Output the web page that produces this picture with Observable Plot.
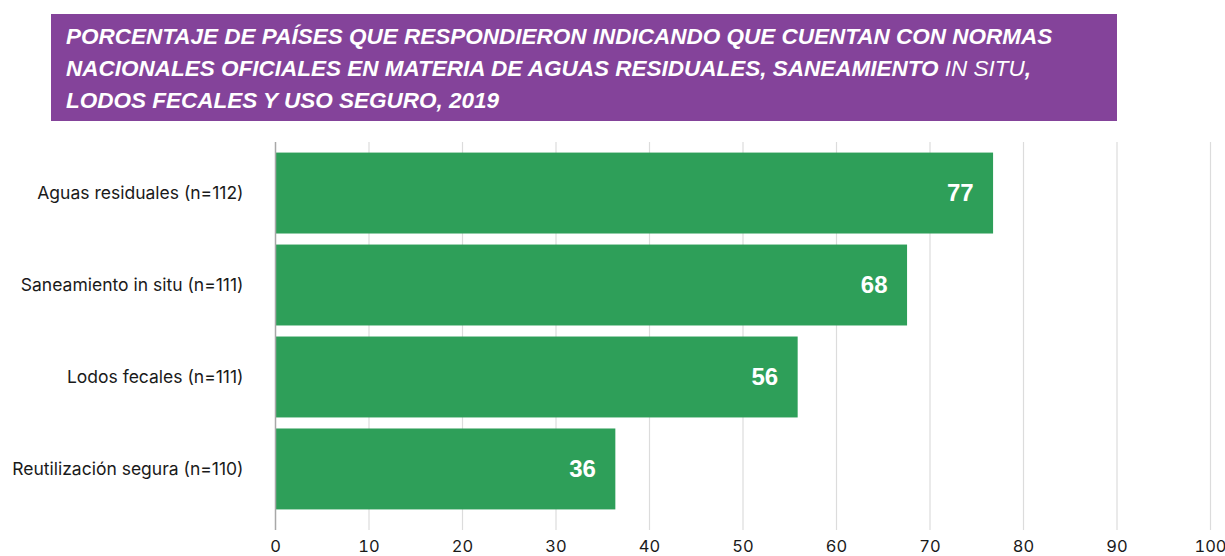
<!DOCTYPE html>
<html><head><meta charset="utf-8">
<script src="https://cdn.jsdelivr.net/npm/d3@7"></script>
<script src="https://cdn.jsdelivr.net/npm/@observablehq/plot@0.6"></script>
<style>
body{margin:0;background:#fff;width:1225px;height:556px;overflow:hidden;position:relative;font-family:Inter,"Liberation Sans",sans-serif;}
#title{position:absolute;left:51px;top:14px;width:1066px;height:107px;background:#84439a;box-sizing:border-box;padding:7px 0 0 15px;color:#fff;font-family:"Liberation Sans",Arial,sans-serif;font-weight:bold;font-style:italic;font-size:22.5px;line-height:32px;white-space:nowrap;}
#title .n{font-weight:normal;}
#chart{position:absolute;left:0;top:130px;}
</style></head><body>
<div id="title">PORCENTAJE DE PAÍSES QUE RESPONDIERON INDICANDO QUE CUENTAN CON NORMAS<br>NACIONALES OFICIALES EN MATERIA DE AGUAS RESIDUALES, SANEAMIENTO <span class="n">IN SITU</span>,<br>LODOS FECALES Y USO SEGURO, 2019</div>
<div id="chart"></div>
<script>
const categories = ["Aguas residuales (n=112)", "Saneamiento in situ (n=111)", "Lodos fecales (n=111)", "Reutilización segura (n=110)"];
const values = [76.8, 67.6, 55.9, 36.4];
const labels = ["77", "68", "56", "36"];
const xTicks = [0, 10, 20, 30, 40, 50, 60, 70, 80, 90, 100];

const data = categories.map((c, i) => ({cat: c, v: values[i], lab: labels[i]}));

const chart = Plot.plot({
  width: 1225,
  height: 426,
  marginLeft: 275,
  marginRight: 15,
  marginTop: 12,
  marginBottom: 36,
  style: {fontFamily: "Inter, 'Liberation Sans', sans-serif", fontSize: "16px", color: "#1a1a1a", background: "transparent", overflow: "visible"},
  x: {domain: [0, 100], ticks: xTicks},
  y: {domain: categories, paddingInner: 0.12, paddingOuter: 0.115, round: false},
  marks: [
    Plot.ruleX(xTicks.filter(t => t > 0), {stroke: "#dcdcdc", strokeWidth: 1.2, insetBottom: -10}),
    Plot.barX(data, {x: "v", y: "cat", fill: "#2e9f59"}),
    Plot.ruleX([0], {stroke: "#a8a8a8", strokeWidth: 1.5, insetBottom: -10}),
    Plot.axisX({ticks: xTicks, tickSize: 0, tickPadding: 20, fontSize: 16.5, label: null, tickFormat: d => d}),
    Plot.axisY({tickSize: 0, tickPadding: 32, fontSize: 17.5, label: null}),
    Plot.text(data, {x: "v", y: "cat", text: "lab", fill: "white", fontWeight: "bold", fontSize: 24, textAnchor: "end", dx: -20, fontFamily: "'Liberation Sans', Arial, sans-serif"})
  ]
});
document.getElementById("chart").appendChild(chart);
</script>
</body></html>
